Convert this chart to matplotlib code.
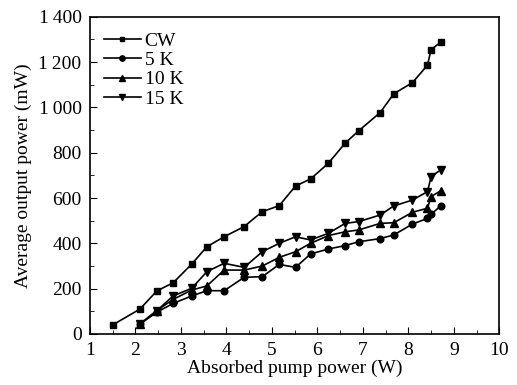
import matplotlib
matplotlib.use("Agg")
import matplotlib.pyplot as plt
from matplotlib.ticker import MultipleLocator, FuncFormatter

plt.rcParams['font.family'] = ['Liberation Serif', 'DejaVu Serif']

# absorbed pump power (W)
x_cw = [1.50, 2.10, 2.47, 2.83, 3.24, 3.57, 3.95, 4.39, 4.79, 5.16, 5.52,
        5.85, 6.24, 6.61, 6.91, 7.38, 7.68, 8.09, 8.42, 8.50, 8.71]
x_q = [2.10, 2.47, 2.83, 3.24, 3.57, 3.95, 4.39, 4.79, 5.16, 5.52,
       5.85, 6.24, 6.61, 6.91, 7.38, 7.68, 8.09, 8.42, 8.50, 8.71]

# average output power (mW)
cw = [40, 110, 190, 226, 309, 385, 429, 474, 540, 566, 653,
      684, 753, 842, 897, 977, 1060, 1109, 1186, 1255, 1287]
k5 = [44, 96, 135, 168, 191, 191, 250, 253, 307, 294,
      353, 375, 390, 407, 421, 437, 485, 510, 528, 565]
k10 = [44, 103, 153, 194, 212, 282, 282, 300, 338, 363,
       400, 434, 451, 459, 488, 491, 537, 555, 606, 632]
k15 = [44, 103, 168, 202, 275, 312, 294, 363, 400, 429,
       415, 444, 488, 496, 525, 565, 591, 628, 694, 724]

fig = plt.figure(figsize=(5.17, 3.85), dpi=100)
ax = fig.add_axes([0.174, 0.1325, 0.7918, 0.8241])

ax.plot(x_cw, cw, 'k-', marker='s', ms=4.3, lw=1.2, label='CW')
ax.plot(x_q, k5, 'k-', marker='o', ms=4.8, lw=1.2, label='5 K')
ax.plot(x_q, k10, 'k-', marker='^', ms=5.2, lw=1.2, label='10 K')
ax.plot(x_q, k15, 'k-', marker='v', ms=5.2, lw=1.2, label='15 K')

ax.set_xlim(1, 10)
ax.set_ylim(0, 1400)
ax.xaxis.set_major_locator(MultipleLocator(1))
ax.xaxis.set_minor_locator(MultipleLocator(0.5))
ax.yaxis.set_major_locator(MultipleLocator(200))
ax.yaxis.set_minor_locator(MultipleLocator(100))
ax.yaxis.set_major_formatter(FuncFormatter(
    lambda v, p: f"{int(v):,}".replace(",", "\u2009")))
ax.tick_params(which='both', direction='in', labelsize=14, pad=6)
ax.tick_params(which='major', length=5)
ax.tick_params(which='minor', length=3)
for s in ax.spines.values():
    s.set_linewidth(1.2)

ax.set_xlabel("Absorbed pump power (W)", fontsize=14, labelpad=0)
ax.set_ylabel("Average output power (mW)", fontsize=14, labelpad=5)

ax.legend(loc='upper left', frameon=False, fontsize=14, handlelength=1.9,
          handletextpad=0.2, labelspacing=0.08, borderaxespad=0.0,
          markerscale=0.8, bbox_to_anchor=(0.015, 0.975))

fig.savefig("out.png", dpi=100)
